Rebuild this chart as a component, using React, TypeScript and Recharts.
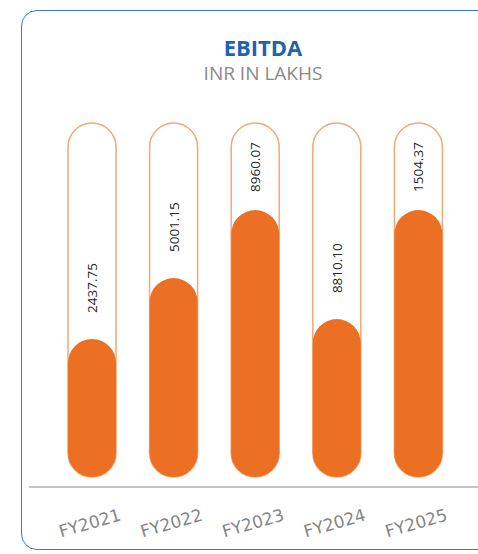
import React from "react";
import { Bar, BarChart, XAxis, YAxis } from "recharts";

// fiscal years on the axis
const years = ["FY2021", "FY2022", "FY2023", "FY2024", "FY2025"];
// fill level of each pill, as % of the full track
const fillLevel = [39.0, 56.2, 75.4, 44.6, 75.4];
// printed values, exactly as shown on the chart
const printedValues = ["2437.75", "5001.15", "8960.07", "8810.10", "1504.37"];

const data = years.map((year, i) => ({
  year,
  level: fillLevel[i],
  shown: printedValues[i],
}));

const ORANGE = "#ec7023";
const TRACK = "#f5a872";
const PLOT_TOP = 123;

const TrackBackground = (props: any) => {
  const { x, y, width, height } = props;
  return (
    <rect
      x={x}
      y={y}
      width={width}
      height={height}
      rx={width / 2}
      ry={width / 2}
      fill="#ffffff"
      stroke={TRACK}
      strokeWidth={1.5}
    />
  );
};

const ValueLabel = (props: any) => {
  const { x, y, width, index } = props;
  const cx = x + width / 2;
  const textLen = 55;
  const startY = Math.max(y - 26, PLOT_TOP + 14 + textLen);
  return (
    <text
      x={cx}
      y={startY}
      transform={`rotate(-90, ${cx}, ${startY})`}
      textAnchor="start"
      dominantBaseline="central"
      fill="#262626"
      fontSize={13.5}
      fontFamily="'Open Sans', sans-serif"
    >
      {printedValues[index]}
    </text>
  );
};

const YearTick = (props: any) => {
  const { x, y, payload } = props;
  return (
    <g transform={`translate(${x - 2},${y + 38}) rotate(-16)`}>
      <text
        textAnchor="middle"
        dominantBaseline="central"
        fill="#858585"
        fontSize={17}
        fontFamily="'DejaVu Sans', sans-serif"
      >
        {payload.value}
      </text>
    </g>
  );
};

export default function App() {
  return (
    <div
      style={{
        position: "fixed",
        left: 0,
        top: 0,
        width: 478,
        height: 554,
        overflow: "hidden",
        background: "#ffffff",
      }}
    >
      <div
        style={{
          position: "absolute",
          left: 21,
          top: 10,
          width: 520,
          height: 540,
          border: "1.5px solid #3f7dcb",
          borderRadius: 16,
          boxSizing: "border-box",
        }}
      />
      <div
        style={{
          position: "absolute",
          left: 0,
          top: 35.5,
          width: 526,
          textAlign: "center",
          fontFamily: "'Open Sans', sans-serif",
          fontWeight: 700,
          fontSize: 22,
          lineHeight: "22px",
          color: "#1f62b0",
        }}
      >
        EBITDA
      </div>
      <div
        style={{
          position: "absolute",
          left: 0,
          top: 64,
          width: 526,
          textAlign: "center",
          fontFamily: "'Open Sans', sans-serif",
          fontSize: 19,
          lineHeight: "19px",
          color: "#8a8a8a",
        }}
      >
        INR IN LAKHS
      </div>
      <div
        style={{
          position: "absolute",
          left: 29,
          top: 486,
          width: 449,
          height: 2,
          background: "#c4c4c4",
        }}
      />
      <div style={{ position: "absolute", left: 0, top: 0 }}>
        <BarChart
          width={478}
          height={554}
          data={data}
          margin={{ top: PLOT_TOP, right: 19, bottom: 17, left: 51 }}
        >
          <XAxis
            dataKey="year"
            axisLine={false}
            tickLine={false}
            height={60}
            interval={0}
            tick={<YearTick />}
          />
          <YAxis hide domain={[0, 100]} />
          <Bar
            dataKey="level"
            barSize={48}
            fill={ORANGE}
            radius={[24, 24, 24, 24]}
            background={(p: any) => <TrackBackground {...p} />}
            label={(p: any) => <ValueLabel {...p} />}
            isAnimationActive={false}
          />
        </BarChart>
      </div>
    </div>
  );
}
